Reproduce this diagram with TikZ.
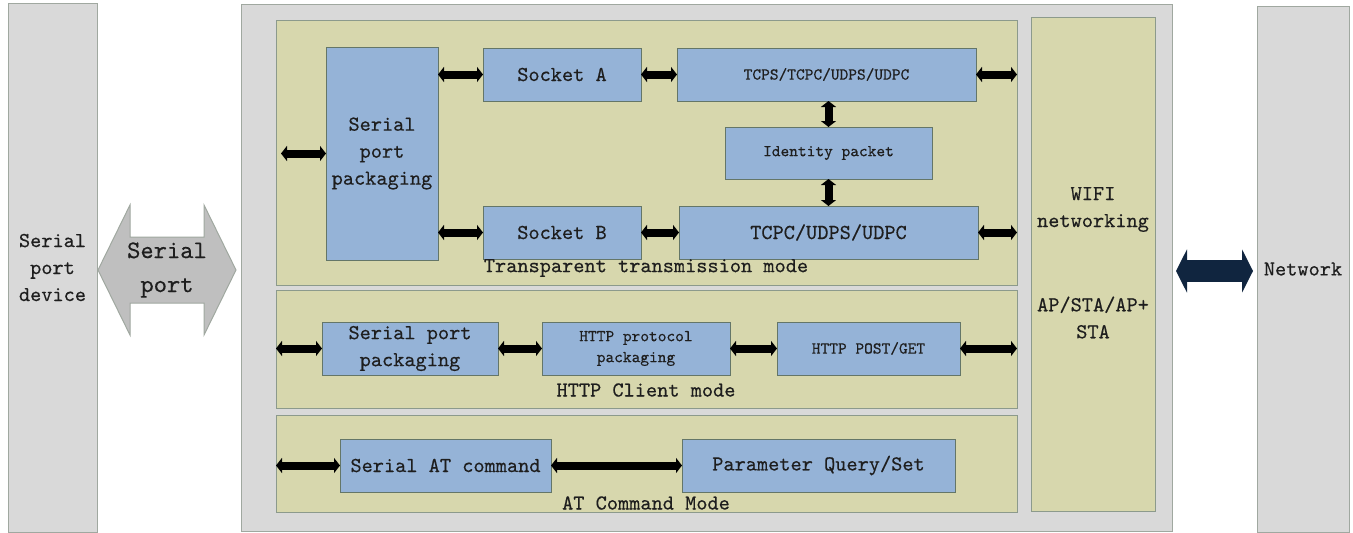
\documentclass[tikz,border=0pt]{standalone}
\usepackage{fontspec}
\setmainfont{lmmono10-regular.otf}[FakeBold=0.4]
\usetikzlibrary{arrows.meta}
\definecolor{outergray}{RGB}{217,217,217}
\definecolor{outerline}{RGB}{160,168,160}
\definecolor{olive}{RGB}{215,215,173}
\definecolor{oliveline}{RGB}{140,154,140}
\definecolor{boxblue}{RGB}{149,179,215}
\definecolor{blueline}{RGB}{100,118,104}
\definecolor{arrowgray}{RGB}{191,191,191}
\definecolor{navy}{RGB}{16,37,63}
\definecolor{txt}{RGB}{30,30,30}
\tikzset{
  base/.style={inner sep=0pt, outer sep=0pt, line width=1pt, align=center, text=txt},
  graybox/.style={base, draw=outerline, fill=outergray},
  modebox/.style={base, draw=oliveline, fill=olive},
  bluebox/.style={base, draw=blueline, fill=boxblue},
  big/.style={font=\fontsize{21.3}{27}\selectfont},
  small/.style={font=\fontsize{16.6}{21}\selectfont},
  dbl/.style={line width=8pt, black,
    {Triangle[width=15pt,length=6pt]}-{Triangle[width=15pt,length=6pt]}},
  label/.style={base, big}
}
\begin{document}
\begin{tikzpicture}[x=1pt, y=-1pt]
\useasboundingbox (0,0) rectangle (1353,533);
% outer boxes
\node[graybox, big, minimum width=89pt, minimum height=529pt] (dev) at (52.5,267.5) {Serial\\port\\device};
\node[graybox, minimum width=931pt, minimum height=527pt] (main) at (706.5,267.5) {};
\node[graybox, big, minimum width=92pt, minimum height=526pt] (net) at (1303,269) {Network};
% mode boxes
\node[modebox, minimum width=741pt, minimum height=265pt] (tm) at (646.5,152.5) {};
\node[modebox, minimum width=741pt, minimum height=118pt] (hc) at (646.5,349) {};
\node[modebox, minimum width=741pt, minimum height=97pt] (atm) at (646.5,463.5) {};
\node[modebox, minimum width=124pt, minimum height=494pt] (wifi) at (1093,264) {};
\node[label] (wifit) at (1093,209.5) {WIFI\\networking};
\node[label] (wifim) at (1093,317.5) {AP/STA/AP+\\STA};
% serial port arrow
\coordinate (spl) at (98,270);
\coordinate (spr) at (236,270);
\fill[arrowgray, draw=outerline, line width=1pt]
  (spl) -- (130,205) -- (130,237) -- (204,237) -- (204,205) -- (spr)
  -- (204,335) -- (204,303) -- (130,303) -- (130,335) -- cycle;
\node[base, font=\fontsize{25.3}{34}\selectfont] (spt) at (167,270) {Serial\\port};
% network arrow
\draw[navy, line width=22pt, {Triangle[width=43pt,length=11pt]}-{Triangle[width=43pt,length=11pt]}]
  (1176,271) -- (1253,271);
% transparent transmission mode
\node[bluebox, big, minimum width=112pt, minimum height=213pt] (spk) at (382,153.5) {Serial\\port\\packaging};
\node[bluebox, big, minimum width=158pt, minimum height=53pt] (sa) at (562,74.5) {Socket A};
\node[bluebox, small, minimum width=299pt, minimum height=53pt] (tcps) at (826.5,74.5) {TCPS/TCPC/UDPS/UDPC};
\node[bluebox, small, minimum width=207pt, minimum height=52pt] (idp) at (828.5,153) {Identity packet};
\node[bluebox, big, minimum width=158pt, minimum height=53pt] (sb) at (562,232.5) {Socket B};
\node[bluebox, big, minimum width=299pt, minimum height=53pt] (tcpc) at (828.5,232.5) {TCPC/UDPS/UDPC};
\node[label] (tml) at (646,268) {Transparent transmission mode};
\draw[dbl, shorten <=5pt] (tm.west |- spk.west) -- (spk.west);
\draw[dbl] (spk.east |- sa.west) -- (sa.west);
\draw[dbl] (sa.east) -- (tcps.west);
\draw[dbl] (tcps.east) -- (tcps.east -| tm.east);
\draw[dbl] (idp.north |- tcps.south) -- (idp.north);
\draw[dbl] (idp.south) -- (idp.south |- tcpc.north);
\draw[dbl] (spk.east |- sb.west) -- (sb.west);
\draw[dbl] (sb.east) -- (tcpc.west);
\draw[dbl] (tcpc.east) -- (tcpc.east -| tm.east);
% HTTP client mode
\node[bluebox, big, minimum width=176pt, minimum height=53pt] (hsp) at (410,348.5) {Serial port\\packaging};
\node[bluebox, small, minimum width=188pt, minimum height=53pt] (hpp) at (636,348.5) {HTTP protocol\\packaging};
\node[bluebox, small, minimum width=183pt, minimum height=53pt] (hpg) at (868.5,348.5) {HTTP POST/GET};
\node[label] (hcl) at (646,390) {HTTP Client mode};
\draw[dbl] (hc.west |- hsp.west) -- (hsp.west);
\draw[dbl] (hsp.east) -- (hpp.west);
\draw[dbl] (hpp.east) -- (hpg.west);
\draw[dbl] (hpg.east) -- (hpg.east -| hc.east);
% AT command mode
\node[bluebox, big, minimum width=211pt, minimum height=53pt] (sat) at (445.5,465.5) {Serial AT command};
\node[bluebox, big, minimum width=273pt, minimum height=53pt] (pqs) at (818.5,465.5) {Parameter Query/Set};
\node[label] (atl) at (646,503) {AT Command Mode};
\draw[dbl] (atm.west |- sat.west) -- (sat.west);
\draw[dbl] (sat.east) -- (pqs.west);
\end{tikzpicture}
\end{document}
